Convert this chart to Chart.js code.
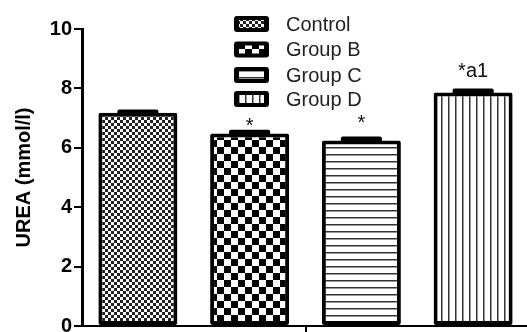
<!DOCTYPE html>
<html>
<head>
<meta charset="utf-8">
<script src="https://cdn.jsdelivr.net/npm/chart.js@4"></script>
<style>
  html, body { margin: 0; padding: 0; background: #fff; overflow: hidden; }
  #wrap { position: absolute; left: 0; top: 0; width: 540px; height: 345px; }
</style>
</head>
<body>
<div id="wrap"><canvas id="chart" width="540" height="345"></canvas></div>
<script>
// data
const groups = ['Control', 'Group B', 'Group C', 'Group D'];
const urea = [7.18, 6.48, 6.25, 7.86];
const sem = [0.11, 0.13, 0.13, 0.14];
const marks = ['', '*', '*', '*a1'];
const yTicks = [0, 2, 4, 6, 8, 10];

const FONT = 'Arial, "Liberation Sans", sans-serif';

function makePattern(w, h, draw) {
    const c = document.createElement('canvas');
    c.width = w; c.height = h;
    const g = c.getContext('2d');
    g.fillStyle = '#fff';
    g.fillRect(0, 0, w, h);
    draw(g);
    return document.getElementById('chart').getContext('2d').createPattern(c, 'repeat');
}

const patterns = [
    // fine checker
    makePattern(6, 6, g => {
        g.fillStyle = '#222';
        g.fillRect(0, 0, 3, 3);
        g.fillRect(3, 3, 3, 3);
    }),
    // coarse checker
    makePattern(14, 14, g => {
        g.fillStyle = '#000';
        g.fillRect(0, 0, 7, 7);
        g.fillRect(7, 7, 7, 7);
    }),
    // horizontal lines
    makePattern(8, 7, g => {
        g.fillStyle = '#333';
        g.fillRect(0, 0, 8, 1.5);
    }),
    // vertical lines
    makePattern(7, 8, g => {
        g.fillStyle = '#333';
        g.fillRect(0, 0, 1.5, 8);
    })
];

// error bars, star labels and legend
const extras = {
    id: 'extras',
    afterDatasetsDraw(chart) {
        const ctx = chart.ctx;
        const y = chart.scales.y;
        // small per-label nudges (px) so they sit where the original has them
        const nudge = [0, 6, -4, -7];
        ctx.save();
        chart.data.datasets.forEach((ds, i) => {
            const bar = chart.getDatasetMeta(i).data[0];
            const w = bar.width * 0.52;
            const top = y.getPixelForValue(urea[i] + sem[i]);
            ctx.fillStyle = '#000';
            ctx.beginPath();
            ctx.roundRect(bar.x - w / 2, top, w, bar.y - top + 3, 2);
            ctx.fill();

            if (marks[i]) {
                ctx.font = '20px ' + FONT;
                ctx.fillStyle = '#111';
                ctx.textAlign = 'center';
                ctx.textBaseline = 'alphabetic';
                ctx.fillText(marks[i], bar.x, top - 4 + nudge[i]);
            }
        });

        // legend
        const rowY = [24, 49.5, 75, 99];
        chart.data.datasets.forEach((ds, i) => {
            const cy = rowY[i];
            ctx.fillStyle = '#000';
            ctx.beginPath();
            ctx.roundRect(234, cy - 8, 35, 16, 3);
            ctx.fill();
            ctx.fillStyle = ds.backgroundColor;
            ctx.fillRect(239, cy - 4, 25, 8);
            ctx.font = '20px ' + FONT;
            ctx.fillStyle = '#222';
            ctx.textAlign = 'left';
            ctx.textBaseline = 'middle';
            ctx.fillText(ds.label, 286, cy + 1);
        });
        ctx.restore();
    }
};

const datasets = groups.map((name, i) => ({
    label: name,
    data: [urea[i]],
    backgroundColor: patterns[i],
    borderColor: '#000',
    borderWidth: 4,
    borderSkipped: false,
    borderRadius: 2,
    barPercentage: 0.707,
    categoryPercentage: 1.0
}));

new Chart(document.getElementById('chart'), {
    type: 'bar',
    data: { labels: [''], datasets: datasets },
    plugins: [extras],
    options: {
        responsive: false,
        animation: false,
        devicePixelRatio: 1,
        layout: { padding: { top: 29, right: 11, bottom: 0, left: 0 } },
        plugins: { legend: { display: false }, tooltip: { enabled: false } },
        scales: {
            x: {
                grid: { offset: false, drawOnChartArea: false, drawTicks: true, tickLength: 12, color: '#000', lineWidth: 2 },
                border: { display: true, color: '#000', width: 2 },
                ticks: { display: true, color: '#000', font: { size: 1 } },
                afterFit(scale) { scale.height = 19; }
            },
            y: {
                min: 0,
                max: 10,
                afterBuildTicks(scale) { scale.ticks = yTicks.map(v => ({ value: v })); },
                grid: { drawOnChartArea: false, drawTicks: true, tickLength: 8, color: '#000', lineWidth: 2 },
                border: { display: true, color: '#000', width: 3 },
                ticks: { color: '#000', padding: 2, font: { family: FONT, size: 20, weight: 'bold' } },
                title: {
                    display: true,
                    text: 'UREA (mmol/l)',
                    color: '#000',
                    padding: { top: 12, bottom: 0 },
                    font: { family: FONT, size: 20, weight: 'bold' }
                },
                afterFit(scale) { scale.width = 82; }
            }
        }
    }
});
</script>
</body>
</html>
